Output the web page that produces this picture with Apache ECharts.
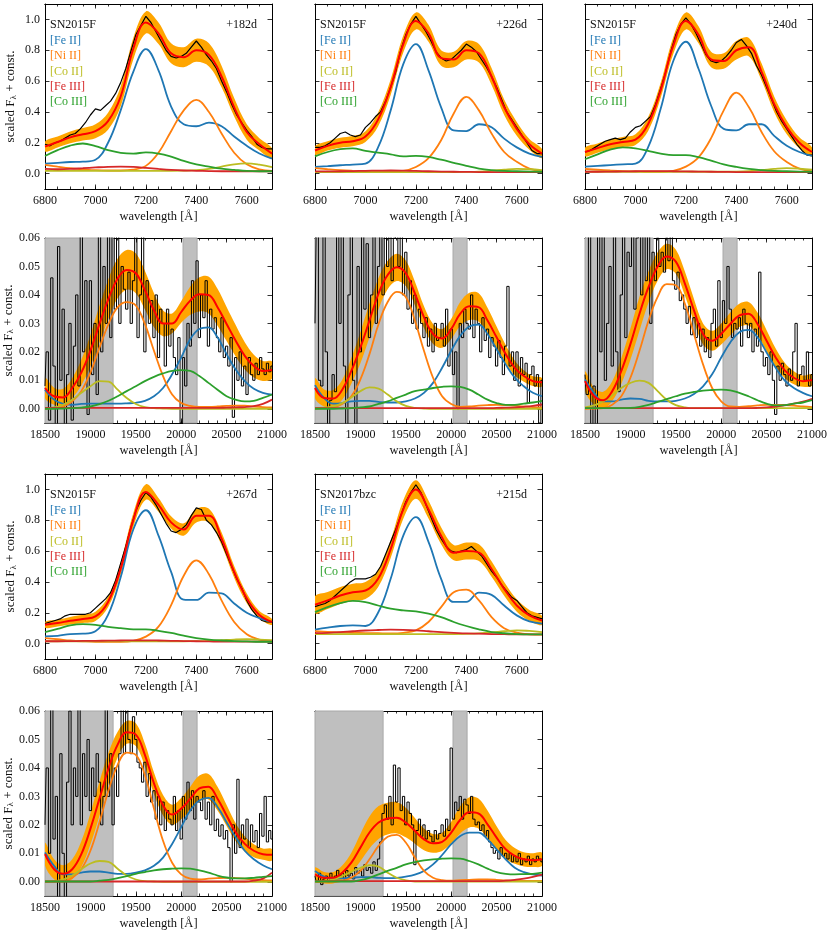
<!DOCTYPE html>
<html>
<head>
<meta charset="UTF-8">
<title>SN2015F / SN2017bzc nebular line fits</title>
<script src="https://cdn.jsdelivr.net/npm/echarts@6/dist/echarts.min.js"></script>
<style>
html, body { margin: 0; padding: 0; background: #fff; }
#main { width: 831px; height: 935px; }
</style>
</head>
<body>
<div id="main"></div>
<script>
// ---- wavelength grids and ticks ----
var optX = [6800,6850,6900,6950,7000,7050,7100,7150,7200,7250,7300,7350,7400,7450,7500,7550,7600,7650,7700];
var nirX = [18500,18600,18700,18800,18900,19000,19100,19200,19300,19400,19500,19600,19700,19800,19900,20000,20100,20200,20300,20400,20500,20600,20700,20800,20900,21000];
var optSpecX = [6800,6820,6840,6860,6880,6900,6920,6940,6960,6980,7000,7020,7040,7060,7080,7100,7120,7140,7160,7180,7200,7220,7240,7260,7280,7300,7320,7340,7360,7380,7400,7420,7440,7460,7480,7500,7520,7540,7560,7580,7600,7620,7640,7660,7680,7700];
var nirSpecX = [18500,18525,18550,18575,18600,18625,18650,18675,18700,18725,18750,18775,18800,18825,18850,18875,18900,18925,18950,18975,19000,19025,19050,19075,19100,19125,19150,19175,19200,19225,19250,19275,19300,19325,19350,19375,19400,19425,19450,19475,19500,19525,19550,19575,19600,19625,19650,19675,19700,19725,19750,19775,19800,19825,19850,19875,19900,19925,19950,19975,20000,20025,20050,20075,20100,20125,20150,20175,20200,20225,20250,20275,20300,20325,20350,20375,20400,20425,20450,20475,20500,20525,20550,20575,20600,20625,20650,20675,20700,20725,20750,20775,20800,20825,20850,20875,20900,20925,20950,20975,21000];
var optTicks = [6800,7000,7200,7400,7600];
var nirTicks = [18500,19000,19500,20000,20500,21000];
var optYTicks = [0,0.2,0.4,0.6,0.8,1.0];
var nirYTicks = [0,0.01,0.02,0.03,0.04,0.05,0.06];
var greyRegions = [[18500,19250],[20020,20175]];

// ---- optical, SN2015F +182d ----
var o182_fe2 = [0.064,0.07,0.075,0.077,0.09,0.2,0.41,0.66,0.807,0.67,0.435,0.32,0.307,0.33,0.307,0.24,0.18,0.13,0.097];
var o182_ni2 = [0.056,0.045,0.035,0.028,0.022,0.02,0.02,0.025,0.05,0.135,0.275,0.41,0.478,0.4,0.26,0.135,0.06,0.028,0.017];
var o182_co2 = [0.018,0.018,0.018,0.018,0.018,0.018,0.018,0.018,0.018,0.018,0.018,0.019,0.022,0.03,0.045,0.06,0.066,0.058,0.042];
var o182_fe3 = [0.03,0.028,0.03,0.035,0.04,0.044,0.045,0.043,0.037,0.03,0.024,0.02,0.018,0.016,0.015,0.015,0.015,0.015,0.015];
var o182_co3 = [0.114,0.152,0.182,0.195,0.178,0.152,0.135,0.13,0.137,0.13,0.11,0.082,0.06,0.045,0.032,0.024,0.017,0.015,0.015];
var o182_tot = [0.175,0.205,0.235,0.255,0.275,0.34,0.5,0.81,0.98,0.91,0.78,0.755,0.8,0.77,0.63,0.43,0.27,0.19,0.13];
var o182_band = [0.032,0.035,0.038,0.04,0.045,0.055,0.065,0.07,0.072,0.07,0.065,0.065,0.075,0.075,0.07,0.06,0.05,0.04,0.035];
var o182_spec = [0.19,0.18,0.2,0.21,0.23,0.25,0.26,0.29,0.33,0.38,0.42,0.41,0.44,0.47,0.52,0.59,0.68,0.79,0.9,0.96,1.02,0.98,0.92,0.86,0.8,0.76,0.75,0.76,0.78,0.82,0.86,0.82,0.77,0.73,0.68,0.6,0.53,0.45,0.38,0.33,0.28,0.24,0.19,0.17,0.16,0.16];

// ---- optical, SN2015F +226d ----
var o226_fe2 = [0.043,0.048,0.054,0.058,0.065,0.17,0.41,0.71,0.84,0.67,0.43,0.28,0.276,0.32,0.3,0.227,0.17,0.13,0.108];
var o226_ni2 = [0.035,0.028,0.022,0.018,0.015,0.013,0.013,0.018,0.043,0.1,0.216,0.39,0.497,0.41,0.26,0.14,0.076,0.032,0.015];
var o226_co2 = [0.01,0.01,0.01,0.01,0.01,0.01,0.01,0.01,0.01,0.01,0.01,0.01,0.011,0.013,0.018,0.025,0.03,0.028,0.022];
var o226_fe3 = [0.014,0.014,0.015,0.016,0.018,0.019,0.02,0.019,0.017,0.015,0.013,0.012,0.011,0.01,0.01,0.01,0.01,0.01,0.01];
var o226_co3 = [0.112,0.14,0.158,0.164,0.147,0.136,0.125,0.112,0.115,0.108,0.09,0.07,0.05,0.032,0.022,0.017,0.015,0.013,0.012];
var o226_tot = [0.15,0.18,0.2,0.21,0.24,0.35,0.56,0.84,0.99,0.91,0.75,0.74,0.8,0.78,0.63,0.43,0.29,0.19,0.13];
var o226_band = [0.028,0.03,0.032,0.033,0.035,0.045,0.05,0.055,0.055,0.055,0.05,0.05,0.06,0.06,0.055,0.05,0.045,0.035,0.03];
var o226_spec = [0.17,0.17,0.18,0.2,0.23,0.26,0.27,0.25,0.24,0.25,0.3,0.33,0.37,0.4,0.47,0.56,0.66,0.8,0.9,0.97,1.02,0.97,0.92,0.86,0.79,0.75,0.73,0.74,0.77,0.8,0.84,0.82,0.79,0.74,0.69,0.63,0.56,0.48,0.4,0.35,0.3,0.25,0.2,0.15,0.13,0.13];

// ---- optical, SN2015F +240d ----
var o240_fe2 = [0.045,0.05,0.055,0.06,0.065,0.17,0.42,0.73,0.855,0.68,0.44,0.29,0.28,0.32,0.32,0.245,0.18,0.14,0.115];
var o240_ni2 = [0.03,0.025,0.02,0.016,0.014,0.012,0.012,0.018,0.045,0.105,0.23,0.41,0.525,0.43,0.27,0.145,0.075,0.032,0.015];
var o240_co2 = [0.012,0.012,0.012,0.012,0.012,0.012,0.012,0.012,0.012,0.012,0.012,0.012,0.013,0.016,0.022,0.03,0.035,0.032,0.025];
var o240_fe3 = [0.012,0.012,0.013,0.014,0.015,0.016,0.016,0.015,0.014,0.013,0.012,0.011,0.01,0.01,0.01,0.01,0.01,0.01,0.01];
var o240_co3 = [0.093,0.125,0.155,0.17,0.164,0.147,0.13,0.12,0.12,0.106,0.084,0.06,0.043,0.03,0.022,0.017,0.015,0.013,0.012];
var o240_tot = [0.14,0.165,0.19,0.205,0.22,0.32,0.54,0.83,0.99,0.9,0.74,0.73,0.8,0.82,0.66,0.45,0.3,0.2,0.14];
var o240_band = [0.028,0.03,0.032,0.033,0.035,0.045,0.05,0.055,0.055,0.055,0.05,0.05,0.06,0.06,0.055,0.05,0.045,0.035,0.03];
var o240_spec = [0.14,0.15,0.17,0.19,0.21,0.22,0.23,0.22,0.23,0.27,0.3,0.31,0.34,0.37,0.45,0.55,0.66,0.79,0.9,0.97,1.01,0.97,0.91,0.84,0.77,0.73,0.72,0.73,0.76,0.8,0.85,0.87,0.83,0.78,0.7,0.64,0.56,0.48,0.4,0.34,0.29,0.24,0.19,0.15,0.12,0.12];

// ---- optical, SN2015F +267d ----
var o267_fe2 = [0.047,0.05,0.062,0.064,0.08,0.186,0.43,0.74,0.865,0.7,0.465,0.285,0.283,0.33,0.325,0.26,0.2,0.165,0.14];
var o267_ni2 = [0.035,0.028,0.02,0.015,0.012,0.012,0.012,0.018,0.045,0.11,0.25,0.44,0.54,0.45,0.28,0.14,0.06,0.025,0.012];
var o267_co2 = [0.015,0.015,0.015,0.015,0.015,0.015,0.015,0.015,0.015,0.015,0.015,0.015,0.016,0.018,0.022,0.026,0.028,0.026,0.022];
var o267_fe3 = [0.015,0.015,0.016,0.017,0.018,0.019,0.02,0.021,0.021,0.02,0.018,0.016,0.015,0.014,0.013,0.013,0.013,0.013,0.013];
var o267_co3 = [0.075,0.095,0.118,0.126,0.122,0.109,0.1,0.092,0.092,0.083,0.069,0.051,0.036,0.026,0.02,0.016,0.014,0.012,0.012];
var o267_tot = [0.122,0.133,0.148,0.16,0.176,0.27,0.486,0.8,0.983,0.9,0.786,0.74,0.83,0.83,0.68,0.465,0.293,0.186,0.14];
var o267_band = [0.02,0.022,0.025,0.027,0.03,0.035,0.04,0.045,0.05,0.045,0.04,0.04,0.045,0.045,0.042,0.038,0.032,0.025,0.02];
var o267_spec = [0.13,0.14,0.15,0.16,0.18,0.19,0.19,0.19,0.19,0.2,0.23,0.26,0.29,0.33,0.41,0.52,0.63,0.75,0.86,0.93,0.98,0.95,0.9,0.84,0.78,0.73,0.72,0.74,0.77,0.83,0.88,0.87,0.8,0.77,0.72,0.66,0.58,0.5,0.42,0.36,0.28,0.22,0.18,0.15,0.14,0.14];

// ---- optical, SN2017bzc +215d ----
var obzc_fe2 = [0.09,0.103,0.114,0.118,0.114,0.2,0.42,0.7,0.82,0.66,0.42,0.27,0.27,0.33,0.316,0.247,0.183,0.144,0.13];
var obzc_ni2 = [0.08,0.076,0.072,0.07,0.068,0.067,0.066,0.07,0.086,0.14,0.237,0.333,0.35,0.28,0.172,0.1,0.071,0.06,0.058];
var obzc_co2 = [0.062,0.062,0.062,0.062,0.062,0.062,0.062,0.062,0.062,0.062,0.062,0.062,0.063,0.066,0.072,0.08,0.086,0.082,0.075];
var obzc_fe3 = [0.068,0.07,0.074,0.08,0.085,0.088,0.09,0.089,0.086,0.08,0.074,0.07,0.066,0.064,0.062,0.061,0.06,0.06,0.06];
var obzc_co3 = [0.204,0.237,0.262,0.277,0.269,0.247,0.226,0.215,0.209,0.194,0.172,0.14,0.114,0.092,0.075,0.067,0.062,0.06,0.06];
var obzc_tot = [0.252,0.28,0.312,0.333,0.344,0.42,0.613,0.87,1.0,0.87,0.7,0.59,0.6,0.59,0.484,0.355,0.247,0.183,0.15];
var obzc_band = [0.055,0.055,0.055,0.055,0.055,0.055,0.058,0.06,0.06,0.058,0.055,0.05,0.055,0.055,0.05,0.045,0.04,0.035,0.03];
var obzc_spec = [0.24,0.25,0.26,0.28,0.31,0.34,0.37,0.4,0.42,0.42,0.42,0.43,0.45,0.5,0.58,0.66,0.74,0.83,0.92,0.98,1.03,0.98,0.9,0.82,0.74,0.68,0.63,0.6,0.59,0.6,0.61,0.63,0.6,0.57,0.52,0.47,0.43,0.38,0.34,0.3,0.28,0.24,0.2,0.18,0.17,0.16];

// ---- NIR, SN2015F +182d ----
var n182_fe2 = [0.0067,0.0032,0.0017,0.0014,0.0017,0.0018,0.0018,0.0018,0.0018,0.0019,0.0021,0.0028,0.0044,0.0073,0.0121,0.018,0.0245,0.028,0.0286,0.0251,0.0192,0.0138,0.0097,0.007,0.0056,0.005];
var n182_ni2 = [0,0.0002,0.0008,0.0026,0.0062,0.0127,0.0215,0.0298,0.0357,0.0375,0.0363,0.0298,0.0204,0.0115,0.005,0.002,0.001,0.0007,0.0007,0.0008,0.001,0.0011,0.0011,0.0008,0.0006,0.0005];
var n182_co2 = [0.0002,0.0005,0.0014,0.0032,0.0056,0.0079,0.0097,0.0095,0.0067,0.0038,0.0017,0.0006,0.0002,0.0001,0,0,0,0,0,0,0,0,0,0,0,0];
var n182_fe3 = [0.0003,0.0003,0.0003,0.0003,0.0003,0.0003,0.0003,0.0003,0.0003,0.0003,0.0003,0.0003,0.0003,0.0003,0.0003,0.0003,0.0003,0.0003,0.0003,0.0003,0.0004,0.0005,0.0006,0.0009,0.0017,0.0032];
var n182_co3 = [0,0,0.0001,0.0002,0.0004,0.0008,0.0016,0.0028,0.0044,0.0062,0.0079,0.0097,0.0112,0.0124,0.0133,0.0136,0.0133,0.0115,0.0091,0.0067,0.0044,0.0032,0.0026,0.0028,0.0038,0.005];
var n182_tot = [0.0073,0.0044,0.004,0.0073,0.0127,0.0204,0.0298,0.0387,0.0458,0.0488,0.0476,0.0417,0.0346,0.03,0.03,0.034,0.038,0.0402,0.04,0.0357,0.0298,0.0239,0.0186,0.015,0.0133,0.0136];
var n182_band = [0.0035,0.003,0.003,0.0035,0.0045,0.0055,0.0065,0.007,0.007,0.007,0.007,0.0068,0.006,0.0045,0.0035,0.0038,0.005,0.006,0.0065,0.0065,0.006,0.0055,0.0048,0.004,0.0035,0.003];
var n182_spec = [0.008,0.02,-0.004,0.046,0.015,-0.006,0.057,0.01,0.035,-0.006,0.012,0.03,-0.004,0.022,0.04,0.008,0.065,0.02,0.045,-0.002,0.045,0.012,0.03,0.005,0.062,0.02,0.05,0.03,0.065,0.025,0.065,0.035,0.065,0.03,0.05,0.042,0.035,0.048,0.03,0.045,0.062,0.025,0.04,0.062,0.02,0.045,0.03,0.038,0.025,0.04,0.018,0.035,0.03,0.015,0.035,0.022,0.028,0.018,0.012,0.025,-0.005,0.018,0.008,0.03,0.022,0.045,0.03,0.052,0.025,0.04,0.032,0.045,0.022,0.035,0.028,0.032,0.025,0.02,0.032,0.018,0.022,0.015,0.025,-0.003,0.018,0.01,0.02,0.008,0.015,0.005,0.018,0.012,0.01,0.016,0.012,0.018,0.014,0.012,0.016,0.013,0.015];

// ---- NIR, SN2015F +226d ----
var n226_fe2 = [0.0083,0.0038,0.0018,0.002,0.0026,0.0028,0.0028,0.0024,0.0022,0.0022,0.0026,0.0036,0.0056,0.0091,0.0144,0.0204,0.0257,0.0289,0.0296,0.0263,0.0209,0.0156,0.0109,0.0079,0.0056,0.0044];
var n226_ni2 = [0,0.0002,0.0005,0.0017,0.0044,0.0103,0.0192,0.0298,0.0375,0.0411,0.0393,0.031,0.0204,0.0109,0.0044,0.0017,0.0007,0.0008,0.0011,0.0013,0.0014,0.0013,0.0011,0.0008,0.0006,0.0005];
var n226_co2 = [0.0002,0.0004,0.0008,0.002,0.004,0.0062,0.0075,0.0071,0.005,0.0026,0.001,0.0003,0.0001,0,0,0,0,0,0,0,0,0,0,0,0,0];
var n226_fe3 = [0.0002,0.0002,0.0002,0.0002,0.0002,0.0002,0.0002,0.0002,0.0002,0.0002,0.0002,0.0002,0.0002,0.0002,0.0002,0.0002,0.0002,0.0002,0.0002,0.0002,0.0003,0.0004,0.0005,0.0007,0.001,0.0015];
var n226_co3 = [0,0,0,0.0001,0.0002,0.0005,0.0008,0.0017,0.0026,0.0038,0.005,0.0062,0.0067,0.0073,0.0077,0.0079,0.0077,0.0067,0.005,0.0032,0.002,0.0014,0.0014,0.0018,0.0022,0.0028];
var n226_tot = [0.0073,0.0038,0.0036,0.0067,0.0133,0.0215,0.031,0.0405,0.047,0.0497,0.0476,0.0405,0.0322,0.0263,0.0247,0.028,0.0334,0.036,0.0357,0.031,0.0251,0.0192,0.0144,0.0115,0.0097,0.0093];
var n226_band = [0.0035,0.003,0.003,0.0035,0.0045,0.0055,0.006,0.0055,0.005,0.0048,0.0045,0.0042,0.0038,0.0035,0.0033,0.0035,0.0042,0.0048,0.005,0.0045,0.0038,0.0032,0.0026,0.002,0.0017,0.0015];
var n226_spec = [0.03,0.062,0.01,0.008,0.065,0.02,-0.006,0.003,0.012,0.006,0.065,0.03,0.062,0.015,-0.006,0.04,0.065,0.01,-0.006,0.05,0.02,0.065,0.035,0.058,0.025,0.04,0.065,0.03,0.05,0.065,0.04,0.065,0.05,0.065,0.045,0.06,0.065,0.05,0.065,0.04,0.055,0.035,0.045,0.03,0.04,0.028,0.035,0.03,0.025,0.032,0.022,0.028,0.02,0.03,0.024,0.025,0.03,0.022,0.035,0.015,0.028,0.012,0.02,0.0,0.03,0.025,0.035,0.03,0.028,0.04,0.025,0.035,0.03,0.02,0.032,0.024,0.028,0.018,0.025,0.022,0.015,0.024,0.018,0.012,0.022,0.043,0.015,0.02,0.01,0.02,0.008,0.018,0.012,0.016,0.002,0.012,0.015,0.008,0.012,-0.005,0.01];

// ---- NIR, SN2015F +240d ----
var n240_fe2 = [0.0103,0.0056,0.0026,0.0026,0.0032,0.0036,0.0035,0.0028,0.0026,0.0026,0.0028,0.0036,0.0052,0.0079,0.0121,0.018,0.0233,0.0269,0.0277,0.0251,0.0198,0.0144,0.0099,0.0073,0.0056,0.0044];
var n240_ni2 = [0,0.0001,0.0002,0.0014,0.0044,0.0109,0.0204,0.031,0.0393,0.0438,0.0434,0.0369,0.0263,0.0156,0.0073,0.0026,0.0008,0.0007,0.0009,0.0012,0.0014,0.0014,0.0013,0.0011,0.0008,0.0006];
var n240_co2 = [0.0005,0.0012,0.0026,0.0047,0.0073,0.0091,0.0099,0.0091,0.0062,0.0032,0.0013,0.0005,0.0002,0.0002,0.0002,0.0002,0.0002,0.0002,0.0002,0.0002,0.0002,0.0002,0.0002,0.0002,0.0002,0.0002];
var n240_fe3 = [0.0002,0.0002,0.0002,0.0002,0.0002,0.0002,0.0002,0.0002,0.0002,0.0002,0.0002,0.0002,0.0002,0.0002,0.0002,0.0002,0.0002,0.0002,0.0002,0.0003,0.0005,0.0008,0.0012,0.0018,0.0025,0.0035];
var n240_co3 = [0.0002,0.0002,0.0002,0.0002,0.0002,0.0003,0.0007,0.0014,0.0024,0.0034,0.0044,0.0053,0.0059,0.0064,0.0066,0.0067,0.0065,0.0056,0.0044,0.003,0.0018,0.0012,0.0013,0.0018,0.0022,0.003];
var n240_tot = [0.0097,0.0044,0.003,0.0062,0.0133,0.0227,0.0334,0.0428,0.05,0.0535,0.0517,0.044,0.0346,0.0263,0.0239,0.0263,0.0298,0.0328,0.0334,0.0298,0.0239,0.018,0.0135,0.0109,0.0097,0.0101];
var n240_band = [0.0035,0.003,0.003,0.0035,0.0045,0.0055,0.006,0.0055,0.005,0.0045,0.0043,0.0042,0.004,0.0037,0.0035,0.0037,0.004,0.0041,0.0041,0.004,0.0037,0.0032,0.0027,0.0023,0.002,0.002];
var n240_spec = [0.012,0.005,0.065,-0.006,0.008,-0.006,0.065,0.02,0.065,0.01,0.03,0.05,0.015,0.065,0.02,0.006,0.04,0.065,0.025,0.055,0.05,0.065,0.035,0.06,0.065,0.04,0.065,0.045,0.065,0.03,0.055,0.045,0.06,0.05,0.055,0.048,0.06,0.052,0.062,0.045,0.042,0.048,0.038,0.04,0.035,0.03,0.036,0.026,0.032,0.025,0.03,0.022,0.028,0.02,0.025,0.018,0.03,0.035,0.022,0.045,0.025,0.038,0.03,0.05,0.035,0.025,0.03,0.028,0.032,0.022,0.035,0.03,0.025,0.03,0.02,0.028,0.022,0.048,0.02,0.015,0.018,0.012,0.02,0.01,-0.002,0.015,0.01,0.016,0.012,0.008,0.014,0.01,0.02,0.03,0.008,0.012,0.015,0.01,0.02,0.008,0.012];

// ---- NIR, SN2015F +267d ----
var n267_fe2 = [0.0103,0.0056,0.0026,0.0026,0.0032,0.0036,0.0036,0.0032,0.0028,0.0028,0.0032,0.004,0.0056,0.0085,0.0133,0.0192,0.0251,0.0286,0.0295,0.0263,0.0209,0.0156,0.0109,0.0079,0.0058,0.0044];
var n267_ni2 = [0,0.0001,0.0002,0.0014,0.0044,0.0109,0.0209,0.0322,0.0411,0.0454,0.0446,0.0375,0.0257,0.0144,0.0067,0.0026,0.0011,0.0008,0.0011,0.0013,0.0014,0.0013,0.0011,0.0008,0.0006,0.0005];
var n267_co2 = [0,0.0002,0.0008,0.0022,0.0044,0.0064,0.0073,0.007,0.0046,0.0022,0.0008,0.0002,0.0001,0,0,0,0,0,0,0,0,0,0,0,0,0];
var n267_fe3 = [0.0001,0.0001,0.0001,0.0001,0.0001,0.0001,0.0001,0.0001,0.0001,0.0001,0.0001,0.0001,0.0001,0.0001,0.0001,0.0001,0.0001,0.0001,0.0001,0.0001,0.0001,0.0001,0.0001,0.0004,0.0011,0.0032];
var n267_co3 = [0.0001,0.0001,0.0001,0.0001,0.0001,0.0001,0.0004,0.0007,0.0013,0.002,0.0028,0.0034,0.004,0.0044,0.0046,0.0047,0.0046,0.004,0.0032,0.0022,0.0015,0.0012,0.0012,0.0014,0.0017,0.002];
var n267_tot = [0.0097,0.0044,0.0028,0.0044,0.0097,0.0186,0.0292,0.0399,0.0482,0.0525,0.0517,0.0446,0.0346,0.0269,0.0236,0.0257,0.0292,0.0328,0.0334,0.0292,0.0233,0.0174,0.0133,0.0109,0.0097,0.0095];
var n267_band = [0.004,0.0035,0.003,0.0035,0.0045,0.0055,0.006,0.0055,0.0045,0.004,0.004,0.004,0.0038,0.0036,0.0035,0.0037,0.0042,0.0045,0.0045,0.0042,0.0037,0.0032,0.0027,0.0023,0.002,0.002];
var n267_spec = [0.02,0.04,0.01,0.065,0.015,0.03,-0.006,0.045,0.01,-0.006,0.035,0.06,0.02,0.04,0.03,0.065,0.02,0.045,0.03,0.05,0.025,0.04,0.03,0.045,0.035,0.02,0.03,0.065,0.03,0.045,0.02,0.04,0.03,0.045,0.065,0.045,0.065,0.05,0.045,0.058,0.05,0.042,0.04,0.035,0.042,0.03,0.038,0.028,0.032,0.022,0.03,0.02,0.028,0.018,0.025,0.022,0.02,0.03,0.018,0.025,0.015,0.03,0.022,0.035,0.025,0.032,0.022,0.03,0.028,0.025,0.032,0.022,0.028,0.02,0.03,0.018,0.022,0.016,0.02,0.015,0.018,0.012,0.0,0.02,0.01,0.036,0.012,0.02,0.015,0.022,0.012,0.02,0.014,0.018,0.012,0.024,0.016,0.03,0.014,0.018,0.015];

// ---- NIR, SN2017bzc +215d ----
var nbzc_fe2 = [0.0038,0.0018,0.0011,0.0012,0.0014,0.0016,0.0016,0.0014,0.0013,0.0014,0.0018,0.0025,0.0038,0.0061,0.0094,0.0132,0.0161,0.0173,0.0173,0.0149,0.0114,0.0079,0.0049,0.0034,0.0026,0.0022];
var nbzc_ni2 = [0,0,0,0.0003,0.0014,0.0038,0.0079,0.0126,0.0158,0.0165,0.0138,0.0085,0.0038,0.0014,0.0006,0.0004,0.0006,0.0007,0.0008,0.0008,0.0007,0.0005,0.0004,0.0003,0.0003,0.0003];
var nbzc_co2 = [0.0001,0.0003,0.0008,0.002,0.0035,0.0049,0.0058,0.0053,0.0032,0.0014,0.0005,0.0001,0.0001,0.0001,0.0001,0.0001,0.0001,0.0001,0.0001,0.0001,0.0001,0.0001,0.0001,0.0001,0.0001,0.0001];
var nbzc_fe3 = [0.0002,0.0002,0.0002,0.0002,0.0002,0.0002,0.0002,0.0002,0.0002,0.0002,0.0002,0.0002,0.0002,0.0002,0.0002,0.0002,0.0002,0.0002,0.0002,0.0002,0.0002,0.0004,0.0007,0.0011,0.0017,0.0025];
var nbzc_co3 = [0.0001,0.0001,0.0001,0.0001,0.0001,0.0006,0.0014,0.0026,0.0038,0.0049,0.0061,0.0069,0.0075,0.0079,0.0081,0.0082,0.0081,0.0073,0.0061,0.0046,0.0034,0.0028,0.0026,0.0027,0.0028,0.0032];
var nbzc_tot = [0.0026,0.0014,0.0014,0.0032,0.0067,0.012,0.0173,0.0208,0.0222,0.0225,0.0208,0.0179,0.0149,0.0135,0.014,0.0173,0.0218,0.0244,0.024,0.0202,0.0155,0.0114,0.0091,0.0079,0.0076,0.0079];
var nbzc_band = [0.0024,0.002,0.002,0.0025,0.0035,0.0048,0.0056,0.0058,0.0056,0.0055,0.0052,0.0045,0.0038,0.0033,0.0032,0.0038,0.0048,0.0053,0.0053,0.0048,0.004,0.0033,0.0028,0.0025,0.0024,0.0023];
var nbzc_spec = [0.002,0.0,0.003,-0.001,0.001,0.002,0.0,0.003,0.001,0.002,0.004,0.002,0.003,0.001,0.004,0.002,0.003,0.001,0.005,0.003,0.004,0.002,0.006,0.004,0.005,0.003,0.007,0.004,0.008,0.014,0.024,0.027,0.022,0.03,0.02,0.041,0.028,0.04,0.025,0.03,0.02,0.028,0.024,0.02,0.006,0.018,0.022,0.016,0.02,0.015,0.018,0.016,0.014,0.018,0.015,0.017,0.02,0.016,0.022,0.018,0.047,0.022,0.028,0.025,0.03,0.022,0.029,0.027,0.024,0.03,0.022,0.02,0.021,0.018,0.02,0.016,0.018,0.014,0.012,0.01,0.011,0.008,0.012,0.009,0.01,0.008,0.01,0.007,0.009,0.007,0.01,0.006,0.008,0.007,0.009,0.006,0.008,0.007,0.009,0.008,0.007];

// ---- layout / style ----
var FONT = 'Liberation Serif';
var colLeft = [45, 315, 585];
var rowTop = [4, 238, 474, 711];
var W = 227, H = 185;
var compColors = ['#1f77b4', '#ff7f0e', '#bcbd22', '#d62728', '#2ca02c'];
var compNames = ['[Fe II]', '[Ni II]', '[Co II]', '[Fe III]', '[Co III]'];

var panels = [
  {row:0, col:0, nir:false, name:'SN2015F', epoch:'+182d', comps:[o182_fe2,o182_ni2,o182_co2,o182_fe3,o182_co3], tot:o182_tot, band:o182_band, spec:o182_spec},
  {row:0, col:1, nir:false, name:'SN2015F', epoch:'+226d', comps:[o226_fe2,o226_ni2,o226_co2,o226_fe3,o226_co3], tot:o226_tot, band:o226_band, spec:o226_spec},
  {row:0, col:2, nir:false, name:'SN2015F', epoch:'+240d', comps:[o240_fe2,o240_ni2,o240_co2,o240_fe3,o240_co3], tot:o240_tot, band:o240_band, spec:o240_spec},
  {row:1, col:0, nir:true, comps:[n182_fe2,n182_ni2,n182_co2,n182_fe3,n182_co3], tot:n182_tot, band:n182_band, spec:n182_spec},
  {row:1, col:1, nir:true, comps:[n226_fe2,n226_ni2,n226_co2,n226_fe3,n226_co3], tot:n226_tot, band:n226_band, spec:n226_spec},
  {row:1, col:2, nir:true, comps:[n240_fe2,n240_ni2,n240_co2,n240_fe3,n240_co3], tot:n240_tot, band:n240_band, spec:n240_spec},
  {row:2, col:0, nir:false, name:'SN2015F', epoch:'+267d', comps:[o267_fe2,o267_ni2,o267_co2,o267_fe3,o267_co3], tot:o267_tot, band:o267_band, spec:o267_spec},
  {row:2, col:1, nir:false, name:'SN2017bzc', epoch:'+215d', comps:[obzc_fe2,obzc_ni2,obzc_co2,obzc_fe3,obzc_co3], tot:obzc_tot, band:obzc_band, spec:obzc_spec},
  {row:3, col:0, nir:true, comps:[n267_fe2,n267_ni2,n267_co2,n267_fe3,n267_co3], tot:n267_tot, band:n267_band, spec:n267_spec},
  {row:3, col:1, nir:true, comps:[nbzc_fe2,nbzc_ni2,nbzc_co2,nbzc_fe3,nbzc_co3], tot:nbzc_tot, band:nbzc_band, spec:nbzc_spec}
];

function pairs(xs, ys) {
  return xs.map(function (x, k) { return [x, ys[k]]; });
}

function xAxisDef(g, pos, range, ticks, len, labels) {
  return {
    gridIndex: g, type: 'value', position: pos, min: range[0], max: range[1],
    axisLine: { show: true, onZero: false, lineStyle: { color: '#000', width: 1 } },
    axisTick: { show: true, inside: true, length: len, customValues: ticks, lineStyle: { color: '#000', width: 0.8 } },
    axisLabel: { show: labels, customValues: ticks, fontFamily: FONT, fontSize: 12, color: '#111', margin: 6,
      formatter: function (v) { return String(v); } },
    splitLine: { show: false },
    name: labels ? 'wavelength [Å]' : '', nameLocation: 'middle', nameGap: 21,
    nameTextStyle: { fontFamily: FONT, fontSize: 12.5, color: '#111' }
  };
}

function yAxisDef(g, pos, range, ticks, labels, digits) {
  return {
    gridIndex: g, type: 'value', position: pos, min: range[0], max: range[1],
    axisLine: { show: true, onZero: false, lineStyle: { color: '#000', width: 1 } },
    axisTick: { show: true, inside: true, length: 4.5, customValues: ticks, lineStyle: { color: '#000', width: 0.8 } },
    axisLabel: { show: labels, customValues: ticks, fontFamily: FONT, fontSize: 12, color: '#111', margin: 5,
      formatter: function (v) { return v.toFixed(digits); } },
    splitLine: { show: false },
    name: labels ? '{a|scaled F}{s|λ}{a| + const.}' : '', nameLocation: 'middle', nameGap: 27,
    nameTextStyle: { fontFamily: FONT, fontSize: 13, color: '#111',
      rich: { a: { fontFamily: FONT, fontSize: 13, color: '#111' },
              s: { fontFamily: FONT, fontSize: 9, color: '#111', verticalAlign: 'bottom', padding: [5, 0, 0, 0] } } }
  };
}

// orange uncertainty band drawn as one polygon through the axis scales
function bandSeries(xi, yi, xs, upper, lower) {
  return {
    type: 'custom', xAxisIndex: xi, yAxisIndex: yi, silent: true, animation: false, clip: true, z: 2,
    data: [0],
    renderItem: function (params, api) {
      var pts = [], k;
      for (k = 0; k < xs.length; k++) pts.push(api.coord([xs[k], upper[k]]));
      for (k = xs.length - 1; k >= 0; k--) pts.push(api.coord([xs[k], lower[k]]));
      return { type: 'polygon', shape: { points: pts, smooth: 0.35 }, style: { fill: '#ffa500', stroke: null } };
    }
  };
}

var grids = [], xAxes = [], yAxes = [], series = [], graphics = [];

panels.forEach(function (p, i) {
  var left = colLeft[p.col], top = rowTop[p.row];
  grids.push({ left: left, top: top, width: W, height: H });
  var xr = p.nir ? [18500, 21000] : [6800, 7700];
  var yr = p.nir ? [-0.005, 0.06] : [-0.1, 1.1];
  var xt = p.nir ? nirTicks : optTicks;
  var xs = p.nir ? nirX : optX;
  var sx = p.nir ? nirSpecX : optSpecX;

  var xi = xAxes.length;
  xAxes.push(xAxisDef(i, 'bottom', xr, xt, 4.5, true));
  xAxes.push(xAxisDef(i, 'bottom', xr, xs, 2.5, false));
  xAxes.push(xAxisDef(i, 'top', xr, xt, 4.5, false));
  xAxes.push(xAxisDef(i, 'top', xr, xs, 2.5, false));
  var yi = yAxes.length;
  yAxes.push(yAxisDef(i, 'left', yr, p.nir ? nirYTicks : optYTicks, p.col === 0, p.nir ? 2 : 1));
  yAxes.push(yAxisDef(i, 'right', yr, p.nir ? nirYTicks : optYTicks, false, 1));

  var base = { type: 'line', xAxisIndex: xi, yAxisIndex: yi, symbol: 'none', silent: true, animation: false };

  // grey telluric regions
  if (p.nir) {
    series.push(Object.assign({}, base, {
      data: [], z: 1,
      markArea: {
        silent: true,
        itemStyle: { color: '#bfbfbf', borderColor: '#a8a8a8', borderWidth: 1 },
        data: greyRegions.map(function (r) { return [{ xAxis: r[0] }, { xAxis: r[1] }]; })
      }
    }));
  }

  var upper = p.tot.map(function (t, k) { return t + p.band[k]; });
  var lower = p.tot.map(function (t, k) { return t - p.band[k]; });
  series.push(bandSeries(xi, yi, xs, upper, lower));

  // observed spectrum
  series.push(Object.assign({}, base, {
    data: pairs(sx, p.spec), step: p.nir ? 'middle' : false,
    lineStyle: { color: '#000', width: p.nir ? 1 : 1.2 }, z: 3
  }));

  // fitted components
  p.comps.forEach(function (c, k) {
    series.push(Object.assign({}, base, {
      data: pairs(xs, c), smooth: 0.4, lineStyle: { color: compColors[k], width: 1.8 }, z: 4
    }));
  });

  // total model
  series.push(Object.assign({}, base, {
    data: pairs(xs, p.tot), smooth: 0.4, lineStyle: { color: '#ff0000', width: 2 }, z: 5
  }));

  // labels inside optical panels
  if (!p.nir) {
    graphics.push({ type: 'text', x: left + 5, y: top + 21, z: 10,
      style: { text: p.name, fontFamily: FONT, fontSize: 12, fill: '#111', align: 'left', verticalAlign: 'middle' } });
    graphics.push({ type: 'text', x: left + W - 15, y: top + 21, z: 10,
      style: { text: p.epoch, fontFamily: FONT, fontSize: 12, fill: '#111', align: 'right', verticalAlign: 'middle' } });
    compNames.forEach(function (nm, k) {
      graphics.push({ type: 'text', x: left + 5, y: top + 37 + k * 15.3, z: 10,
        style: { text: nm, fontFamily: FONT, fontSize: 12, fill: compColors[k], align: 'left', verticalAlign: 'middle' } });
    });
  }
});

var chart = echarts.init(document.getElementById('main'));
chart.setOption({
  animation: false,
  backgroundColor: '#fff',
  grid: grids,
  xAxis: xAxes,
  yAxis: yAxes,
  series: series,
  graphic: graphics
});
</script>
</body>
</html>
